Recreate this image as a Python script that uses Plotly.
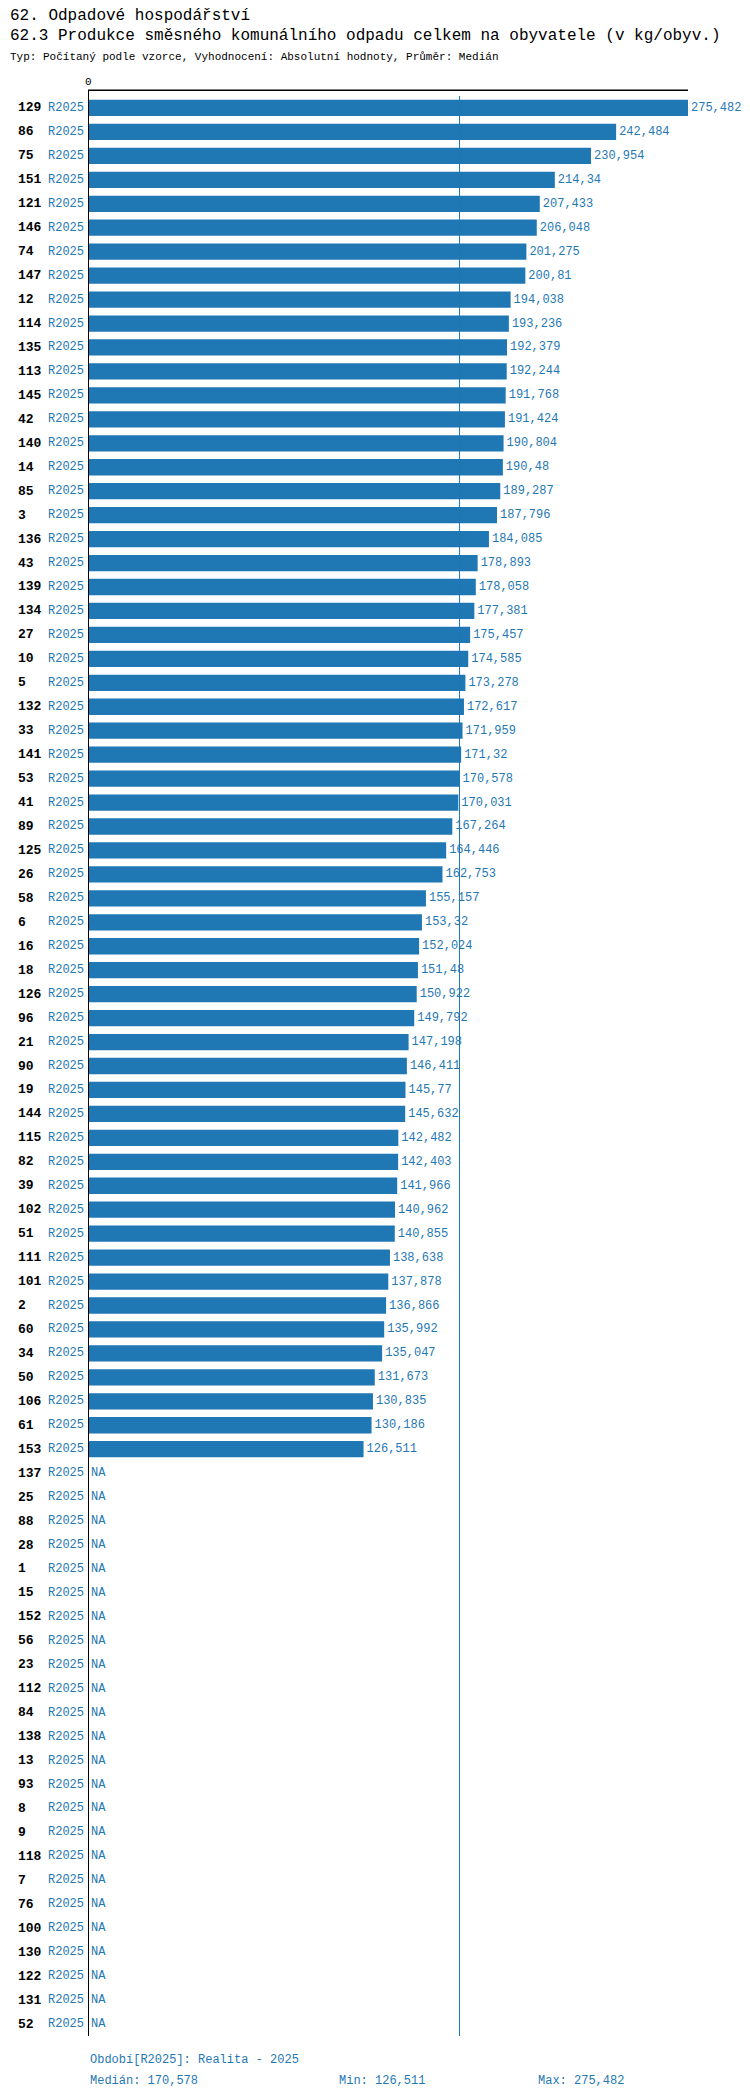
import plotly.graph_objects as go

# municipality ids in chart order (top to bottom)
ids = [129, 86, 75, 151, 121, 146, 74, 147, 12, 114, 135, 113, 145, 42, 140, 14, 85, 3, 136, 43,
       139, 134, 27, 10, 5, 132, 33, 141, 53, 41, 89, 125, 26, 58, 6, 16, 18, 126, 96, 21,
       90, 19, 144, 115, 82, 39, 102, 51, 111, 101, 2, 60, 34, 50, 106, 61, 153,
       137, 25, 88, 28, 1, 15, 152, 56, 23, 112, 84, 138, 13, 93, 8, 9, 118, 7, 76,
       100, 130, 122, 131, 52]

# kg per inhabitant, None = NA
values = [275.482, 242.484, 230.954, 214.34, 207.433, 206.048, 201.275, 200.81, 194.038, 193.236,
          192.379, 192.244, 191.768, 191.424, 190.804, 190.48, 189.287, 187.796, 184.085, 178.893,
          178.058, 177.381, 175.457, 174.585, 173.278, 172.617, 171.959, 171.32, 170.578, 170.031,
          167.264, 164.446, 162.753, 155.157, 153.32, 152.024, 151.48, 150.922, 149.792, 147.198,
          146.411, 145.77, 145.632, 142.482, 142.403, 141.966, 140.962, 140.855, 138.638, 137.878,
          136.866, 135.992, 135.047, 131.673, 130.835, 130.186, 126.511] + [None] * 24

period = "R2025"
median = 170.578
vmin = 126.511
vmax = 275.482

BLUE = "#1f77b4"
FONT = "Liberation Mono"


def fmt(v):
    return ("%.3f" % v).rstrip("0").rstrip(".").replace(".", ",")


rows = list(range(len(ids)))
xs = [v if v is not None else 0 for v in values]
texts = [fmt(v) if v is not None else "NA" for v in values]

fig = go.Figure(go.Bar(
    x=xs, y=rows, orientation="h", width=0.68,
    marker=dict(color=BLUE, line=dict(width=0)),
    text=texts, textposition="outside", cliponaxis=False, constraintext="none",
    textfont=dict(color=BLUE, size=12, family=FONT),
))

# row labels: id and period
for r, i in zip(rows, ids):
    fig.add_annotation(x=-72 / 670, y=r, xref="paper", yref="y", text="<b>%d</b>" % i,
                       showarrow=False, xanchor="left", font=dict(size=13, color="black", family=FONT))
    fig.add_annotation(x=-2 / 670, y=r, xref="paper", yref="y", text=period,
                       showarrow=False, xanchor="right", font=dict(size=12, color=BLUE, family=FONT))

# median line, zero axis, top line
fig.add_shape(type="line", x0=median, x1=median, y0=0, y1=1, yref="paper",
              line=dict(color=BLUE, width=1))
fig.add_shape(type="line", x0=0, x1=0, y0=0, y1=1.003, yref="paper",
              line=dict(color="black", width=2))
fig.add_shape(type="line", x0=0, x1=vmax, y0=1.003, y1=1.003, yref="paper",
              line=dict(color="black", width=1.5))
fig.add_annotation(x=0, y=1.003, yref="paper", text="0", showarrow=False, yanchor="bottom",
                   font=dict(size=11, color="black", family=FONT))

# titles
titles = [("62. Odpadové hospodářství", 16, 8),
          ("62.3 Produkce směsného komunálního odpadu celkem na obyvatele (v kg/obyv.)", 16, 28),
          ("Typ: Počítaný podle vzorce, Vyhodnocení: Absolutní hodnoty, Průměr: Medián", 11, 49)]
for t, s, py in titles:
    fig.add_annotation(x=-80 / 670, y=1 + (88 - py) / 1940, xref="paper", yref="paper", text=t,
                       showarrow=False, xanchor="left", yanchor="middle",
                       font=dict(size=s, color="black", family=FONT))

# footer
footer = [("Období[R2025]: Realita - 2025", 0, 2052),
          ("Medián: " + fmt(median), 0, 2073),
          ("Min: " + fmt(vmin), 249, 2073),
          ("Max: " + fmt(vmax), 448, 2073)]
for t, px, py in footer:
    fig.add_annotation(x=px / 670, y=-(py - 2028) / 1940, xref="paper", yref="paper", text=t,
                       showarrow=False, xanchor="left", yanchor="middle",
                       font=dict(size=12, color=BLUE, family=FONT))

fig.update_layout(
    width=750, height=2096,
    margin=dict(l=80, r=0, t=88, b=68),
    plot_bgcolor="white", paper_bgcolor="white",
    showlegend=False,
    xaxis=dict(range=[0, vmax * 670 / 600], showgrid=False, zeroline=False,
               showticklabels=False, fixedrange=True),
    yaxis=dict(range=[len(ids) - 0.5, -0.5], showticklabels=False, showgrid=False,
               zeroline=False),
)

fig.write_html("out.html")
